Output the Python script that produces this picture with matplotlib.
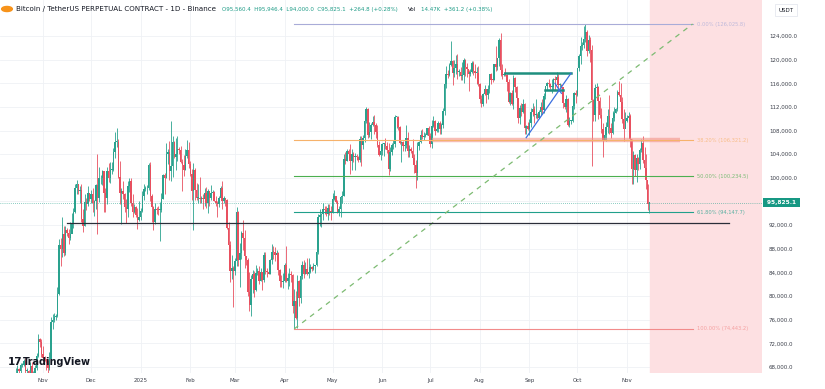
# %%
import pandas as pd
import matplotlib.pyplot as plt
import matplotlib.dates as mdates
from matplotlib.transforms import blended_transform_factory

# BTCUSDT perp, daily, in thousands of USDT, 2024-10-14 .. 2025-11-15
first_open = 62.9
close = [
    66.0, 67.0, 67.6, 67.4, 68.4, 68.4, 69.0, 67.4, 67.4, 66.7, 68.2, 66.6, 67.0, 67.9, 69.9, 72.7, 72.3, 70.2,
    69.5, 69.3, 68.7, 67.8, 69.4, 75.6, 75.9, 76.5, 76.7, 80.4, 88.7, 88.0, 90.5, 87.3, 91.1, 90.6, 89.8, 90.5, 92.3, 94.3, 98.3, 98.9, 97.8, 98.0, 93.0, 91.9, 95.9, 95.6, 97.5, 96.4,
    97.2, 95.8, 96.0, 98.8, 96.6, 99.9, 99.9, 101.2, 97.4, 96.6, 101.1, 100.0, 101.4, 101.4, 104.3, 106.1, 106.1, 100.2, 97.5, 97.8, 97.2, 95.1, 94.7, 98.7, 99.4, 95.8, 94.2, 95.1, 93.7, 92.8, 93.4,
    94.4, 96.9, 98.1, 98.2, 98.3, 102.1, 96.9, 95.0, 92.5, 94.7, 94.6, 94.5, 94.5, 96.5, 100.5, 99.9, 104.1, 104.4, 101.1, 102.0, 106.1, 103.6, 104.0, 104.8, 104.7, 102.6, 102.1, 101.3, 103.7, 104.7, 102.4,
    100.6, 97.7, 101.4, 97.9, 96.6, 96.6, 96.5, 96.5, 96.4, 97.4, 95.7, 97.8, 96.6, 97.5, 97.6, 96.1, 95.8, 95.5, 96.6, 98.3, 96.1, 96.6, 96.3, 91.5, 88.7, 84.3, 84.7, 84.3,
    86.0, 94.3, 86.1, 87.2, 90.6, 89.9, 86.7, 86.1, 80.7, 78.5, 82.9, 83.7, 81.1, 83.9, 84.3, 82.6, 84.1, 82.7, 86.9, 84.2, 84.0, 83.8, 86.1, 87.5, 87.4, 86.9, 87.2, 84.4, 82.6, 82.3, 82.5,
    85.2, 82.5, 83.1, 83.8, 83.5, 78.4, 79.2, 76.3, 82.6, 79.6, 83.4, 85.3, 83.7, 84.5, 83.7, 84.0, 84.9, 84.5, 85.1, 85.2, 87.5, 93.4, 93.7, 93.9, 94.7, 94.6, 93.8, 94.9, 94.3, 94.2,
    96.5, 96.9, 95.9, 94.3, 94.8, 96.8, 97.0, 103.2, 102.9, 104.6, 104.1, 102.8, 104.1, 103.5, 103.7, 103.5, 103.1, 106.5, 105.6, 106.8, 109.7, 111.7, 107.3, 107.8, 109.0, 109.4, 108.9, 107.8, 105.6, 103.9, 104.6,
    105.7, 105.8, 105.4, 104.7, 101.5, 104.3, 105.6, 105.7, 110.3, 110.3, 108.6, 105.9, 106.1, 105.4, 105.6, 106.8, 104.6, 104.9, 104.6, 103.3, 102.1, 100.9, 105.4, 106.0, 107.3, 106.9, 107.1, 107.3, 108.4, 107.1,
    105.7, 108.8, 109.6, 108.0, 108.2, 109.2, 108.3, 108.9, 111.3, 115.9, 117.5, 117.4, 119.1, 119.8, 117.7, 118.6, 119.2, 117.9, 117.9, 117.3, 117.4, 119.9, 118.8, 118.4, 117.6, 117.9, 119.4, 118.0, 117.8, 117.8, 115.8,
    113.3, 112.5, 114.2, 115.0, 114.1, 115.0, 117.5, 116.6, 116.5, 119.3, 118.7, 120.2, 123.3, 118.3, 117.4, 117.5, 117.4, 116.2, 112.9, 114.3, 112.5, 116.9, 115.4, 113.5, 110.1, 111.8, 111.2, 112.5, 108.4, 108.8, 108.2,
    109.2, 111.2, 111.7, 110.7, 110.7, 110.2, 111.1, 112.0, 111.5, 113.9, 115.5, 116.1, 115.9, 115.4, 115.4, 116.8, 116.5, 117.1, 115.7, 115.7, 115.3, 112.7, 112.0, 113.3, 109.0, 109.7, 109.7, 112.1, 114.4, 114.0,
    118.6, 120.6, 122.3, 122.4, 123.5, 124.7, 121.4, 123.3, 121.7, 113.2, 110.6, 115.2, 115.3, 113.0, 110.7, 108.2, 106.4, 107.2, 108.6, 110.5, 108.4, 107.6, 110.1, 111.0, 111.6, 114.5, 114.1, 112.9, 110.0, 108.3, 109.6,
    110.1, 110.5, 106.5, 101.5, 103.9, 101.3, 103.4, 102.3, 104.7, 105.9, 103.1, 101.6, 99.7, 95.56, 95.83,
]
high = [
    66.5, 67.9, 68.4, 67.9, 68.7, 68.7, 69.4, 69.5, 67.8, 67.5, 68.8, 68.8, 67.4, 68.3, 70.3, 73.6, 72.9, 72.7,
    71.6, 69.9, 69.4, 69.1, 70.5, 76.4, 76.9, 77.2, 76.9, 81.5, 89.6, 89.9, 93.3, 91.8, 91.8, 91.5, 91.4, 92.6, 94.0, 94.9, 99.0, 99.6, 99.0, 98.6, 98.9, 94.8, 97.2, 96.6, 98.7, 97.5,
    97.9, 98.2, 96.3, 99.0, 104.0, 101.9, 100.5, 101.4, 101.2, 98.3, 101.9, 102.5, 102.6, 102.7, 105.1, 107.8, 108.4, 106.5, 102.8, 98.2, 99.5, 97.4, 96.4, 99.4, 99.9, 99.9, 97.3, 95.5, 95.2, 94.9, 96.1,
    94.9, 97.8, 98.9, 98.7, 98.8, 102.5, 102.7, 97.3, 95.3, 95.8, 95.0, 95.3, 95.9, 97.4, 100.7, 100.9, 105.9, 104.9, 106.3, 109.6, 107.1, 106.3, 106.8, 107.1, 105.3, 105.4, 103.2, 103.8, 104.8, 106.4, 106.0,
    102.8, 101.5, 102.5, 101.7, 99.1, 99.0, 100.1, 96.9, 97.3, 98.3, 98.5, 98.1, 97.2, 98.8, 97.9, 97.7, 97.0, 96.0, 96.9, 98.7, 99.5, 96.9, 96.5, 96.5, 92.5, 89.3, 87.0, 85.1,
    86.5, 95.0, 94.4, 88.9, 91.0, 92.8, 91.2, 86.8, 86.5, 84.0, 83.6, 84.4, 84.3, 85.3, 84.7, 85.0, 84.7, 84.1, 87.4, 87.4, 84.8, 84.5, 86.2, 88.8, 88.5, 88.3, 87.8, 87.5, 84.6, 83.5, 83.9,
    85.6, 88.5, 83.9, 84.7, 84.2, 83.8, 81.2, 80.9, 83.5, 82.7, 84.3, 85.9, 86.1, 85.8, 86.5, 86.4, 85.5, 85.1, 85.6, 85.3, 88.8, 93.8, 94.7, 94.0, 95.8, 95.3, 95.3, 95.6, 95.5, 95.2,
    97.4, 97.9, 96.9, 96.3, 95.2, 96.9, 97.7, 104.1, 104.3, 104.9, 104.9, 105.8, 104.9, 104.3, 104.2, 104.1, 103.7, 107.1, 107.1, 107.3, 110.8, 112.0, 111.9, 109.5, 109.3, 110.4, 110.7, 109.3, 108.9, 106.3, 104.9,
    105.9, 105.9, 106.8, 106.0, 105.9, 105.3, 105.9, 106.4, 110.6, 110.4, 110.4, 108.8, 106.2, 106.2, 106.0, 108.9, 107.7, 105.6, 105.2, 106.5, 104.0, 103.1, 106.0, 106.3, 108.1, 108.3, 107.8, 107.6, 108.5, 108.8,
    107.6, 109.8, 110.5, 109.8, 108.4, 109.7, 109.7, 109.2, 111.9, 116.8, 118.9, 118.2, 119.5, 123.2, 119.9, 120.0, 120.8, 120.9, 118.5, 118.8, 119.6, 120.2, 120.1, 119.5, 118.2, 118.4, 119.8, 119.8, 119.3, 118.8, 118.9,
    116.0, 114.0, 114.4, 115.7, 115.1, 115.7, 117.6, 117.7, 117.8, 119.3, 122.3, 120.3, 123.7, 124.5, 119.2, 117.9, 118.6, 117.6, 116.8, 114.6, 114.8, 117.4, 117.0, 115.6, 113.5, 112.4, 112.6, 113.4, 112.6, 108.9, 109.5,
    109.9, 111.8, 112.6, 112.2, 113.4, 111.0, 111.5, 112.9, 113.3, 114.3, 115.6, 116.3, 116.8, 116.1, 116.8, 116.9, 117.3, 117.9, 117.5, 116.1, 115.9, 115.4, 113.3, 114.0, 113.5, 110.3, 109.8, 112.3, 114.5, 114.8,
    118.6, 121.0, 123.9, 122.9, 125.7, 126.03, 125.0, 124.1, 123.8, 122.5, 113.4, 115.8, 116.0, 115.5, 113.6, 111.9, 109.2, 107.5, 109.4, 111.7, 114.0, 109.3, 111.3, 112.0, 111.9, 114.9, 116.4, 116.0, 113.6, 111.6, 111.1,
    110.6, 111.2, 110.8, 106.6, 104.5, 104.1, 104.0, 103.6, 105.0, 106.6, 107.0, 105.3, 104.1, 99.0, 95.95,
]
low = [
    62.4, 64.8, 66.7, 66.6, 67.0, 68.0, 68.1, 66.6, 66.6, 65.3, 66.6, 65.5, 66.6, 66.8, 67.5, 69.7, 71.4, 69.7,
    68.8, 69.0, 67.5, 66.8, 67.5, 69.3, 74.4, 75.6, 75.9, 76.5, 80.2, 85.1, 86.6, 86.7, 87.0, 90.1, 88.8, 89.4, 90.9, 91.5, 94.1, 97.2, 97.2, 95.7, 92.6, 90.8, 91.8, 94.6, 95.3, 96.0,
    95.7, 94.3, 93.6, 94.7, 90.5, 95.9, 98.9, 98.8, 94.2, 94.3, 95.6, 99.3, 99.2, 100.6, 101.2, 103.3, 105.3, 100.0, 95.6, 92.2, 96.4, 94.2, 92.4, 93.4, 97.6, 95.2, 93.4, 94.1, 93.3, 91.3, 92.7,
    92.8, 94.2, 96.2, 97.8, 97.3, 97.9, 96.1, 92.5, 91.2, 92.2, 93.8, 93.7, 89.3, 94.3, 96.5, 97.3, 99.9, 102.3, 99.6, 99.5, 100.1, 103.3, 101.3, 102.8, 104.1, 102.5, 97.8, 100.3, 101.3, 103.3, 101.6,
    100.3, 96.2, 91.2, 96.2, 96.2, 95.7, 95.7, 95.7, 94.7, 95.3, 94.9, 94.1, 95.2, 96.3, 97.1, 96.0, 95.2, 93.4, 95.1, 96.4, 94.8, 95.7, 95.2, 91.3, 86.0, 82.3, 82.8, 78.2,
    83.6, 85.1, 85.1, 81.5, 86.3, 87.8, 84.7, 85.3, 80.0, 77.5, 76.6, 80.6, 79.9, 80.8, 83.6, 82.0, 82.5, 81.1, 82.3, 83.7, 83.2, 83.7, 83.7, 85.5, 86.3, 85.9, 85.9, 83.6, 81.6, 81.6, 81.3,
    82.4, 82.3, 81.2, 81.7, 82.4, 77.2, 74.4, 76.2, 74.6, 78.4, 78.9, 82.8, 83.0, 83.7, 83.6, 83.1, 83.9, 84.2, 84.4, 83.9, 85.1, 87.1, 91.9, 91.7, 92.9, 93.9, 93.6, 92.9, 93.7, 92.9,
    94.1, 96.3, 95.7, 94.0, 93.5, 93.4, 95.8, 96.9, 102.3, 102.8, 103.3, 100.7, 101.4, 102.6, 101.4, 103.1, 102.6, 102.7, 102.0, 104.9, 106.1, 109.3, 106.8, 106.9, 106.6, 108.7, 107.5, 106.7, 105.3, 103.7, 103.1,
    103.8, 103.7, 104.9, 104.2, 100.4, 101.1, 103.9, 104.9, 105.3, 108.4, 108.1, 105.7, 102.7, 104.5, 104.5, 105.0, 103.5, 103.6, 104.2, 102.4, 100.9, 98.2, 99.6, 104.7, 105.9, 106.6, 106.4, 106.9, 107.2, 106.8,
    105.3, 105.1, 108.6, 107.3, 107.8, 107.8, 107.5, 107.5, 108.4, 110.6, 115.2, 116.9, 117.3, 118.9, 115.7, 117.0, 117.5, 116.8, 117.3, 116.5, 116.5, 116.1, 117.3, 117.1, 114.7, 117.2, 117.8, 117.4, 116.9, 115.8, 115.5,
    112.7, 112.0, 112.1, 114.1, 112.7, 113.4, 114.3, 115.9, 116.3, 116.5, 118.1, 118.2, 118.9, 117.2, 116.8, 117.2, 117.2, 114.7, 112.7, 112.4, 112.4, 111.7, 114.6, 110.6, 109.3, 109.1, 110.4, 110.9, 107.5, 107.4, 108.1,
    107.3, 108.6, 110.5, 109.3, 110.2, 110.0, 110.2, 110.6, 110.8, 110.9, 113.4, 114.8, 115.3, 115.1, 114.4, 114.8, 114.8, 116.3, 115.2, 115.4, 115.2, 111.9, 111.6, 111.1, 108.7, 108.6, 109.1, 109.4, 111.6, 112.7,
    113.9, 118.1, 119.3, 121.6, 122.0, 123.0, 120.6, 121.1, 119.6, 102.0, 109.6, 109.7, 113.9, 109.9, 110.1, 107.6, 103.5, 106.4, 106.2, 107.6, 107.5, 106.7, 107.5, 109.6, 110.9, 111.3, 113.8, 112.0, 109.3, 106.3, 108.7,
    109.4, 109.7, 105.3, 98.9, 98.9, 100.3, 99.3, 101.4, 101.5, 104.3, 102.5, 100.0, 98.1, 94.6, 94.0,
]

# fib retracement drawn from the April low to the October high
fib_start, fib_end = "2025-04-07", "2025-12-12"
fib_low, fib_high = 74.4432, 126.0258
fib_levels = [0.0, 0.382, 0.5, 0.618, 1.0]
fib_labels = ["0.00% (126,025.8)", "38.20% (106,321.2)", "50.00% (100,234.5)",
              "61.80% (94,147.7)", "100.00% (74,443.2)"]
fib_colors = ["#a9acd8", "#f6b26b", "#4caf50", "#21a08b", "#f28b8b"]

support_level = 92.3  # black line
last_price = 95.8251

month_ticks = pd.date_range("2024-11-01", "2025-11-01", freq="MS")
month_labels = ["Nov", "Dec", "2025", "Feb", "Mar", "Apr", "May", "Jun", "Jul",
                "Aug", "Sep", "Oct", "Nov"]
price_ticks = list(range(68, 125, 4))

# %%
df = pd.DataFrame({"high": high, "low": low, "close": close},
                  index=pd.date_range("2024-10-14", periods=len(close), freq="D"))
df["open"] = [first_open] + close[:-1]
x = mdates.date2num(df.index)
up = df["close"] >= df["open"]

fig = plt.figure(figsize=(8.25, 3.89), dpi=100)
ax = fig.add_axes([0, 16 / 389, 762 / 825, 373 / 389])
ax.set_xlim(mdates.date2num(pd.Timestamp("2024-11-01")) - 26.9,
            mdates.date2num(pd.Timestamp("2024-11-01")) + 449.4)
ax.set_ylim(66.98, 130.09)

# grid
for t in month_ticks:
    ax.axvline(mdates.date2num(t), color="#eff1f5", lw=0.6, zorder=0)
for p in price_ticks:
    ax.axhline(p, color="#eff1f5", lw=0.6, zorder=0)

# future highlight
ax.axvspan(x[-1] + 0.5, ax.get_xlim()[1], color="#fde0e2", zorder=0.5)

# candles
col = ["#2aa28e" if u else "#e8505f" for u in up]
ax.vlines(x, df["low"], df["high"], colors=col, lw=0.6, zorder=2)
body_lo = df[["open", "close"]].min(axis=1)
body_h = (df["close"] - df["open"]).abs().clip(lower=0.15)
ax.bar(x, body_h, bottom=body_lo, width=0.9, color=col, lw=0, zorder=3)

# fib levels
f0, f1 = mdates.date2num(pd.Timestamp(fib_start)), mdates.date2num(pd.Timestamp(fib_end))
for lvl, lab, c in zip(fib_levels, fib_labels, fib_colors):
    p = fib_high - lvl * (fib_high - fib_low)
    ax.plot([f0, f1], [p, p], color=c, lw=0.8, zorder=4)
    ax.text(f1 + 2.5, p, lab, color=c, fontsize=3.7, va="center", ha="left", alpha=0.75)
ax.plot([f0, f1], [fib_low, fib_high], color="#7dbb72", lw=0.9, ls=(0, (4, 4)), zorder=4)

# resistance band at 38.2%
band_p = fib_high - 0.382 * (fib_high - fib_low)
ax.plot(mdates.date2num(pd.to_datetime(["2025-07-02", "2025-12-04"])), [band_p, band_p],
        color="#f29488", lw=3.2, alpha=0.6, zorder=3.5, solid_capstyle="butt")

# support line
ax.plot(mdates.date2num(pd.to_datetime(["2024-11-16", "2026-01-04"])),
        [support_level, support_level], color="#2a2e39", lw=0.9, zorder=4)

# triangle sketch
tri_top = mdates.date2num(pd.to_datetime(["2025-08-17", "2025-09-27"]))
ax.plot(tri_top, [117.7, 117.7], color="#1e8f7e", lw=1.8, zorder=5)
ax.plot(mdates.date2num(pd.to_datetime(["2025-09-11", "2025-09-22"])), [114.9, 114.9],
        color="#1e8f7e", lw=1.8, zorder=5)
ax.plot(mdates.date2num(pd.to_datetime(["2025-08-30", "2025-09-27"])), [106.8, 117.7],
        color="#3b6fe0", lw=0.9, zorder=5)
ax.plot(mdates.date2num(pd.to_datetime(["2025-09-17", "2025-09-21"])), [116.0, 114.3],
        color="#3b6fe0", lw=0.9, zorder=5)

# last price
ax.axhline(last_price, color="#22a08a", lw=0.5, ls=(0, (1, 2)), zorder=4)
tr = blended_transform_factory(ax.transAxes, ax.transData)
ax.text(1.004, last_price, " 95,825.1 ", transform=tr, color="white", fontsize=4.2,
        va="center", ha="left", fontweight="bold",
        bbox=dict(boxstyle="square,pad=0.35", fc="#169883", ec="none"))

# axes cosmetics; the 96,000 label sits under the last-price tag, so it is left blank
ax.set_xticks(mdates.date2num(month_ticks))
ax.set_xticklabels(month_labels)
ax.yaxis.tick_right()
ax.set_yticks(price_ticks)
ax.set_yticklabels(["" if p == 96 else f"{p * 1000:,.1f}" for p in price_ticks])
ax.tick_params(axis="x", length=0, pad=3.5, labelsize=4.0, labelcolor="#3b3f4a")
ax.tick_params(axis="y", length=0, pad=5, labelsize=4.0, labelcolor="#3b3f4a")
for s in ax.spines.values():
    s.set_visible(False)

# header
fig.patches.append(plt.Circle((7 / 825, 1 - 9 / 389), 0.0065, transform=fig.transFigure,
                              color="#f7931a", figure=fig))
fig.text(16 / 825, 1 - 9.5 / 389, "Bitcoin / TetherUS PERPETUAL CONTRACT - 1D - Binance",
         fontsize=5.1, color="#131722", va="center")
fig.text(222 / 825, 1 - 9.5 / 389,
         "O95,560.4  H95,946.4  L94,000.0  C95,825.1  +264.8 (+0.28%)",
         fontsize=4.0, color="#1d9b86", va="center")
fig.text(408 / 825, 1 - 9.5 / 389, "Vol", fontsize=4.0, color="#131722", va="center")
fig.text(421 / 825, 1 - 9.5 / 389, "14.47K  +361.2 (+0.38%)", fontsize=4.0,
         color="#1d9b86", va="center")
fig.text(786 / 825, 1 - 10 / 389, "USDT", fontsize=4.0, color="#131722", va="center",
         ha="center", bbox=dict(boxstyle="square,pad=0.6", fc="white", ec="#e0e3eb", lw=0.5))

# watermark
fig.text(8 / 825, 1 - 362 / 389, "17", fontsize=7.5, fontweight="bold", color="#131722",
         va="center")
fig.text(23 / 825, 1 - 362 / 389, "TradingView", fontsize=7, fontweight="bold",
         color="#131722", va="center")

fig.savefig("out.png", dpi=100)
